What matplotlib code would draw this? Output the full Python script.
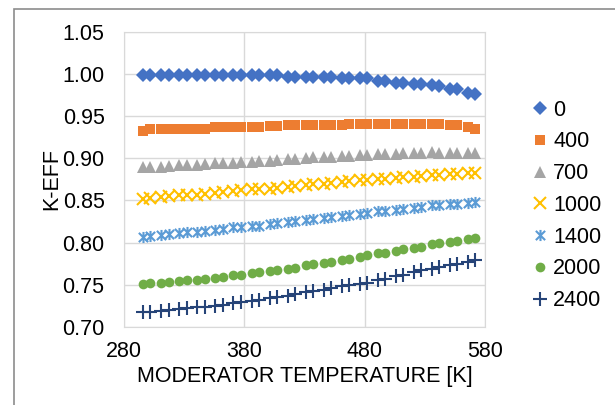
import matplotlib.pyplot as plt
from matplotlib.patches import Rectangle
from matplotlib.path import Path

plt.rcParams['font.family'] = ['Liberation Sans', 'DejaVu Sans']

# moderator temperature [K]
temps = [296, 302, 311, 317, 326, 332, 341, 347, 356, 362, 371, 377, 386, 392,
         401, 407, 416, 422, 431, 437, 446, 452, 461, 467, 476, 482, 491, 497,
         506, 512, 521, 527, 536, 542, 551, 557, 566, 572]

keff_0 = [0.999, 0.999, 0.999, 0.999, 0.999, 0.999, 0.999, 0.999, 0.999, 0.999,
          0.999, 0.999, 0.999, 0.999, 0.999, 0.999, 0.997, 0.997, 0.997, 0.997,
          0.997, 0.997, 0.995, 0.995, 0.995, 0.995, 0.992, 0.992, 0.990, 0.990,
          0.988, 0.988, 0.987, 0.986, 0.982, 0.982, 0.978, 0.976]
keff_400 = [0.932, 0.935, 0.935, 0.935, 0.935, 0.935, 0.935, 0.935, 0.937, 0.937,
            0.937, 0.937, 0.937, 0.937, 0.938, 0.938, 0.939, 0.939, 0.939, 0.939,
            0.940, 0.940, 0.940, 0.941, 0.941, 0.941, 0.941, 0.941, 0.941, 0.941,
            0.941, 0.941, 0.941, 0.941, 0.939, 0.939, 0.937, 0.935]
keff_700 = [0.890, 0.890, 0.890, 0.891, 0.892, 0.892, 0.892, 0.893, 0.894, 0.894,
            0.895, 0.896, 0.896, 0.897, 0.897, 0.898, 0.899, 0.899, 0.900, 0.901,
            0.902, 0.902, 0.903, 0.903, 0.904, 0.904, 0.905, 0.905, 0.905, 0.906,
            0.906, 0.906, 0.907, 0.906, 0.906, 0.906, 0.906, 0.906]
keff_1000 = [0.852, 0.853, 0.854, 0.855, 0.856, 0.856, 0.857, 0.858, 0.859, 0.860,
             0.861, 0.862, 0.863, 0.863, 0.864, 0.865, 0.866, 0.867, 0.868, 0.869,
             0.870, 0.871, 0.872, 0.873, 0.874, 0.874, 0.875, 0.876, 0.877, 0.878,
             0.878, 0.879, 0.880, 0.880, 0.881, 0.881, 0.882, 0.882]
keff_1400 = [0.807, 0.808, 0.809, 0.810, 0.811, 0.812, 0.813, 0.814, 0.815, 0.816,
             0.818, 0.818, 0.820, 0.820, 0.822, 0.823, 0.824, 0.825, 0.827, 0.828,
             0.829, 0.830, 0.832, 0.833, 0.834, 0.835, 0.837, 0.838, 0.839, 0.840,
             0.841, 0.842, 0.844, 0.845, 0.846, 0.846, 0.847, 0.848]
keff_2000 = [0.751, 0.752, 0.752, 0.753, 0.754, 0.755, 0.756, 0.757, 0.758, 0.759,
             0.761, 0.762, 0.764, 0.765, 0.766, 0.767, 0.769, 0.770, 0.773, 0.774,
             0.776, 0.777, 0.779, 0.781, 0.783, 0.785, 0.787, 0.788, 0.790, 0.792,
             0.794, 0.795, 0.798, 0.799, 0.801, 0.802, 0.804, 0.805]
keff_2400 = [0.717, 0.718, 0.719, 0.720, 0.721, 0.722, 0.723, 0.724, 0.725, 0.726,
             0.728, 0.729, 0.731, 0.732, 0.734, 0.735, 0.737, 0.739, 0.741, 0.742,
             0.744, 0.746, 0.748, 0.749, 0.751, 0.752, 0.755, 0.757, 0.760, 0.762,
             0.765, 0.767, 0.769, 0.771, 0.773, 0.775, 0.777, 0.779]

series_labels = ['0', '400', '700', '1000', '1400', '2000', '2400']
series = [keff_0, keff_400, keff_700, keff_1000, keff_1400, keff_2000, keff_2400]

colors = ['#4472C4', '#ED7D31', '#A5A5A5', '#FFC000', '#5B9BD5', '#70AD47', '#264478']

# Excel "star" marker: an x with a vertical bar through it
star = Path([(-1, -1), (1, 1), (-1, 1), (1, -1), (0, -1.2), (0, 1.2)],
            [Path.MOVETO, Path.LINETO, Path.MOVETO, Path.LINETO, Path.MOVETO, Path.LINETO])
markers = ['D', 's', '^', 'x', star, 'o', '+']
sizes = [7.5, 7, 8, 8, 8, 7, 9.5]

fig = plt.figure(figsize=(6.15, 4.05), dpi=100)
ax = fig.add_axes([0.2016, 0.1933, 0.587, 0.7277])

# outer chart frame (cut off at the right and bottom edges)
fig.patches.append(Rectangle((14 / 615, -0.2), 1.5, 1.2 - 9.4 / 405,
                             transform=fig.transFigure, fill=False,
                             edgecolor='#8C8C8C', linewidth=1.2))

for vals, lab, col, mk, ms in zip(series, series_labels, colors, markers, sizes):
    if isinstance(mk, Path) or mk in ('x', '+'):
        ax.plot(temps, vals, linestyle='none', marker=mk, markersize=ms,
                markeredgecolor=col, markerfacecolor='none',
                markeredgewidth=1.5, label=lab)
    else:
        ax.plot(temps, vals, linestyle='none', marker=mk, markersize=ms,
                color=col, markeredgewidth=0, label=lab)

ax.set_xlim(280, 580)
ax.set_ylim(0.70, 1.05)
ax.set_xticks([280, 380, 480, 580])
ax.set_yticks([0.70, 0.75, 0.80, 0.85, 0.90, 0.95, 1.00, 1.05])
ax.set_yticklabels([f'{v:.2f}' for v in ax.get_yticks()])
ax.grid(True, color='#D9D9D9', linewidth=1)
ax.set_axisbelow(True)
for s in ax.spines.values():
    s.set_color('#D9D9D9')
ax.tick_params(length=0, labelsize=15.5, colors='black')
ax.tick_params(axis='y', pad=14)
ax.tick_params(axis='x', pad=10)

ax.set_xlabel('MODERATOR TEMPERATURE [K]', fontsize=15.5, labelpad=3)
ax.set_ylabel('K-EFF', fontsize=15.5, labelpad=0)

leg = fig.legend(loc='center left', bbox_to_anchor=(0.849, 0.493), frameon=False,
                 fontsize=15.5, handlelength=0.7, handletextpad=0.25,
                 labelspacing=0.5, borderpad=0)

fig.savefig('out.png', dpi=100)
